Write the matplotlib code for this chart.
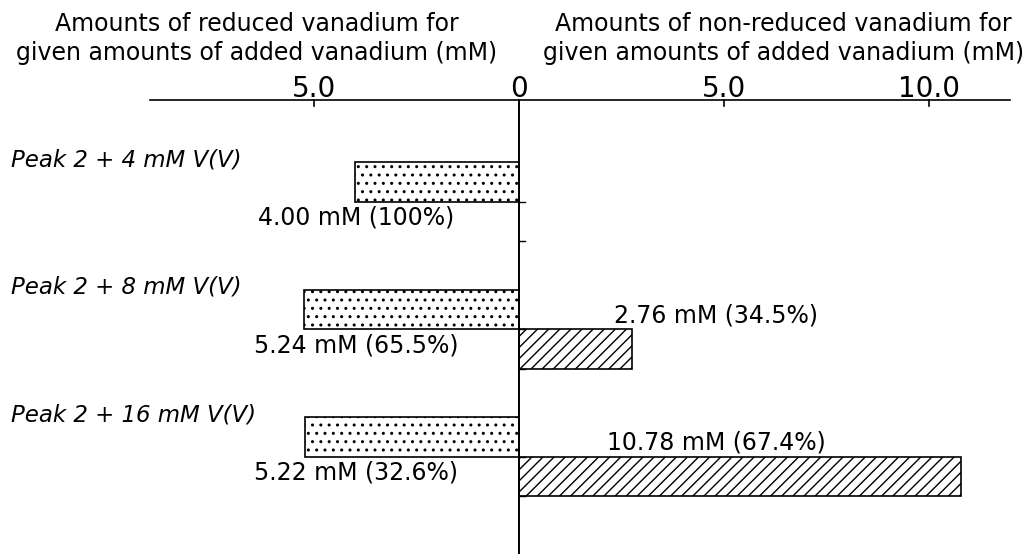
import matplotlib
matplotlib.use("Agg")
import matplotlib.pyplot as plt
import numpy as np

# vanadium added to peak 2 and how much of it ended up reduced / non-reduced
groups = ["Peak 2 + 4 mM V(V)", "Peak 2 + 8 mM V(V)", "Peak 2 + 16 mM V(V)"]
reduced = [4.00, 5.24, 5.22]
reduced_pct = [100, 65.5, 32.6]
nonreduced = [0.0, 2.76, 10.78]
nonreduced_pct = [0.0, 34.5, 67.4]
tick_values = [-5, 0, 5, 10]
tick_labels = ["5.0", "0", "5.0", "10.0"]

plt.rcParams["font.family"] = "DejaVu Sans"
plt.rcParams["hatch.linewidth"] = 1.0

fig = plt.figure(figsize=(10.32, 5.54), dpi=100)
ax = fig.add_axes([0, 0, 1, 1])
ax.set_xlim(-12.66, 12.51)
ax.set_ylim(2.761, -1.584)
ax.axis("off")

bar_h = 0.31
pos = np.arange(len(groups))

# reduced amounts drawn leftwards, non-reduced rightwards
ax.barh(pos - bar_h / 2, [-v for v in reduced], height=bar_h, left=0,
        color="white", edgecolor="black", linewidth=1.2, hatch="..")
for y, v in zip(pos, nonreduced):
    if v > 0:
        ax.barh(y + bar_h / 2, v, height=bar_h, left=0, color="white",
                edgecolor="black", linewidth=1.2, hatch="///")

# top scale and centre line
axis_y = -0.8
ax.plot([-9.0, 11.97], [axis_y, axis_y], color="black", lw=1.2)
ax.plot([0, 0], [axis_y, 2.761], color="black", lw=1.4)
tick_len = 0.05
for v, lab in zip(tick_values, tick_labels):
    if v != 0:
        ax.plot([v, v], [axis_y, axis_y + tick_len], color="black", lw=1.2)
    ax.text(v, axis_y - 0.025, lab, ha="center", va="baseline", fontsize=20)
for y in pos:
    for yy in (y, y + bar_h):
        ax.plot([0, 0.15], [yy, yy], color="black", lw=1.0)

ax.text(-6.4, -1.28, "Amounts of reduced vanadium for\ngiven amounts of added vanadium (mM)",
        ha="center", va="center", fontsize=17, linespacing=1.25)
ax.text(6.45, -1.28, "Amounts of non-reduced vanadium for\ngiven amounts of added vanadium (mM)",
        ha="center", va="center", fontsize=17, linespacing=1.25)

for y, name, r, rp, n, npct in zip(pos, groups, reduced, reduced_pct, nonreduced, nonreduced_pct):
    ax.text(-12.4, y - 0.33, name, ha="left", va="center", fontsize=16.5, style="italic")
    ax.text(-3.98, y + 0.125, f"{r:.2f} mM ({rp:g}%)", ha="center", va="center", fontsize=17)
    if n > 0:
        ax.text(4.8, y - 0.11, f"{n:.2f} mM ({npct:g}%)", ha="center", va="center", fontsize=17)

fig.savefig("out.png", dpi=100, facecolor="white")
